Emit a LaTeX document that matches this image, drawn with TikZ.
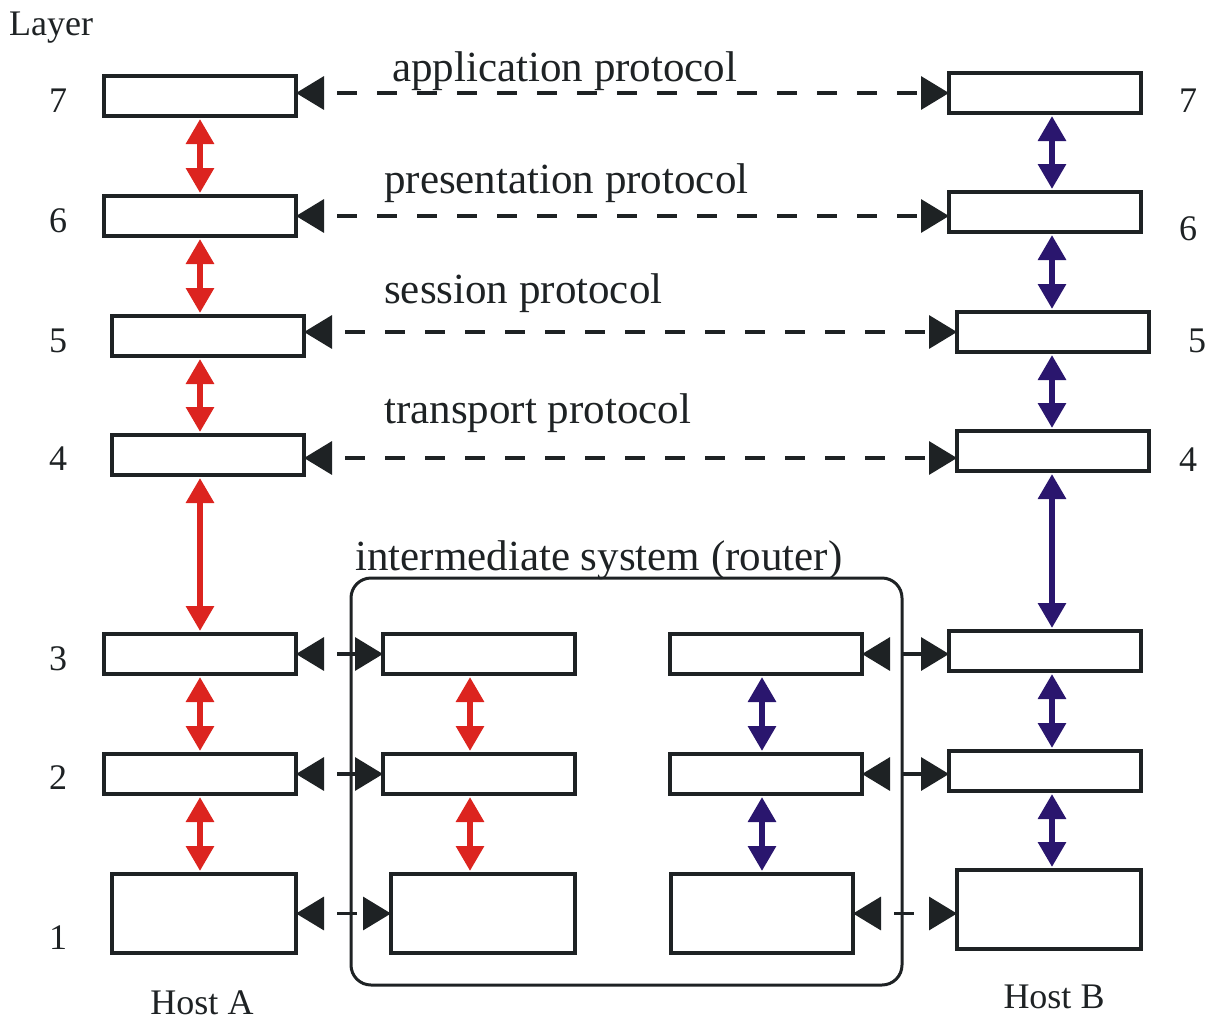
\documentclass[tikz,border=0pt]{standalone}
\usepackage{fontspec}
\setmainfont{Liberation Serif}
\usetikzlibrary{arrows.meta}
\definecolor{ink}{RGB}{30,34,36}
\definecolor{upred}{RGB}{220,36,31}
\definecolor{upblue}{RGB}{42,22,110}
\begin{document}
\begin{tikzpicture}[x=1pt,y=-1pt,
  layerbox/.style={draw=ink, line width=3.6pt, fill=white, inner sep=0pt, outer sep=0pt,
                   minimum width=192pt, minimum height=40pt},
  tallbox/.style={layerbox, minimum width=184pt, minimum height=79pt},
  peer/.style={draw=ink, line width=3.4pt, dash pattern=on 20pt off 20pt, dash phase=26pt,
               {Triangle[length=28pt,width=33pt]}-{Triangle[length=28pt,width=33pt]}},
  updown/.style={line width=6pt, shorten >=3pt, shorten <=3pt,
               {Triangle[length=25pt,width=27pt]}-{Triangle[length=25pt,width=27pt]}},
  big/.style={font=\fontsize{43}{49}\selectfont, text=ink, inner sep=0pt},
  small/.style={font=\fontsize{36}{42}\selectfont, text=ink, inner sep=0pt}
]
\useasboundingbox (0,0) rectangle (1210,1021);

% router frame
\draw[ink, line width=3pt, rounded corners=20pt] (351,578) rectangle (902,985);
\node[big, anchor=base west] (router) at (355,570) {intermediate system (router)};

% Host A stack
\node[layerbox] (a7) at (200,96) {};
\node[layerbox] (a6) at (200,216) {};
\node[layerbox] (a5) at (208,336) {};
\node[layerbox] (a4) at (208,455) {};
\node[layerbox] (a3) at (200,654) {};
\node[layerbox] (a2) at (200,774) {};
\node[tallbox]  (a1) at (204,913.5) {};

% Host B stack
\node[layerbox] (b7) at (1045,93) {};
\node[layerbox] (b6) at (1045,212) {};
\node[layerbox] (b5) at (1053,332) {};
\node[layerbox] (b4) at (1053,451) {};
\node[layerbox] (b3) at (1045,651) {};
\node[layerbox] (b2) at (1045,771) {};
\node[tallbox]  (b1) at (1049,909.5) {};

% router, side facing host A
\node[layerbox] (r3) at (479,654) {};
\node[layerbox] (r2) at (479,774) {};
\node[tallbox]  (r1) at (483,913.5) {};

% router, side facing host B
\node[layerbox] (s3) at (766,654) {};
\node[layerbox] (s2) at (766,774) {};
\node[tallbox, minimum width=182pt] (s1) at (762,913.5) {};

% columns of the vertical arrows
\coordinate (colA) at (200,0);
\coordinate (colB) at (1052,0);
\coordinate (colR) at (470,0);
\coordinate (colS) at (762,0);

% layer-to-layer arrows, host A and router side A
\draw[updown, upred] (a7.south -| colA) -- (a6.north -| colA);
\draw[updown, upred] (a6.south -| colA) -- (a5.north -| colA);
\draw[updown, upred] (a5.south -| colA) -- (a4.north -| colA);
\draw[updown, upred] (a4.south -| colA) -- (a3.north -| colA);
\draw[updown, upred] (a3.south -| colA) -- (a2.north -| colA);
\draw[updown, upred] (a2.south -| colA) -- (a1.north -| colA);
\draw[updown, upred] (r3.south -| colR) -- (r2.north -| colR);
\draw[updown, upred] (r2.south -| colR) -- (r1.north -| colR);

% layer-to-layer arrows, host B and router side B
\draw[updown, upblue] (b7.south -| colB) -- (b6.north -| colB);
\draw[updown, upblue] (b6.south -| colB) -- (b5.north -| colB);
\draw[updown, upblue] (b5.south -| colB) -- (b4.north -| colB);
\draw[updown, upblue] (b4.south -| colB) -- (b3.north -| colB);
\draw[updown, upblue] (b3.south -| colB) -- (b2.north -| colB);
\draw[updown, upblue] (b2.south -| colB) -- (b1.north -| colB);
\draw[updown, upblue] (s3.south -| colS) -- (s2.north -| colS);
\draw[updown, upblue] (s2.south -| colS) -- (s1.north -| colS);

% peer protocols
\draw[peer] (a7.east |- b7.west) -- (b7.west);
\draw[peer] (a6.east) -- (a6.east -| b6.west);
\draw[peer] (a5.east |- b5.west) -- (b5.west);
\draw[peer] ([yshift=-3pt]a4.east) -- ([yshift=-3pt]a4.east -| b4.west);
\draw[peer] (a3.east) -- (r3.west);
\draw[peer] (a2.east) -- (r2.west);
\draw[peer] (a1.east) -- (r1.west);
\draw[peer] (s3.east) -- (s3.east -| b3.west);
\draw[peer] (s2.east) -- (s2.east -| b2.west);
\draw[peer] (s1.east) -- (s1.east -| b1.west);

% protocol names
\node[big, anchor=base west] (p7) at (392,81) {application protocol};
\node[big, anchor=base west] (p6) at (384,193) {presentation protocol};
\node[big, anchor=base west] (p5) at (384,303) {session protocol};
\node[big, anchor=base west] (p4) at (384,423) {transport protocol};

% layer numbers
\node[small, anchor=base west] (layer) at (9,35) {Layer};
\node[small, anchor=base] (l7) at (58,112) {7};
\node[small, anchor=base] (l6) at (58,232) {6};
\node[small, anchor=base] (l5) at (58,352) {5};
\node[small, anchor=base] (l4) at (58,470) {4};
\node[small, anchor=base] (l3) at (58,670) {3};
\node[small, anchor=base] (l2) at (58,789) {2};
\node[small, anchor=base] (l1) at (58,949) {1};
\node[small, anchor=base] (m7) at (1188,112) {7};
\node[small, anchor=base] (m6) at (1188,240) {6};
\node[small, anchor=base] (m5) at (1197,352) {5};
\node[small, anchor=base] (m4) at (1188,471) {4};

% host names
\node[small, anchor=base] (hostA) at (202,1014) {Host A};
\node[small, anchor=base] (hostB) at (1054,1008) {Host B};
\end{tikzpicture}
\end{document}
